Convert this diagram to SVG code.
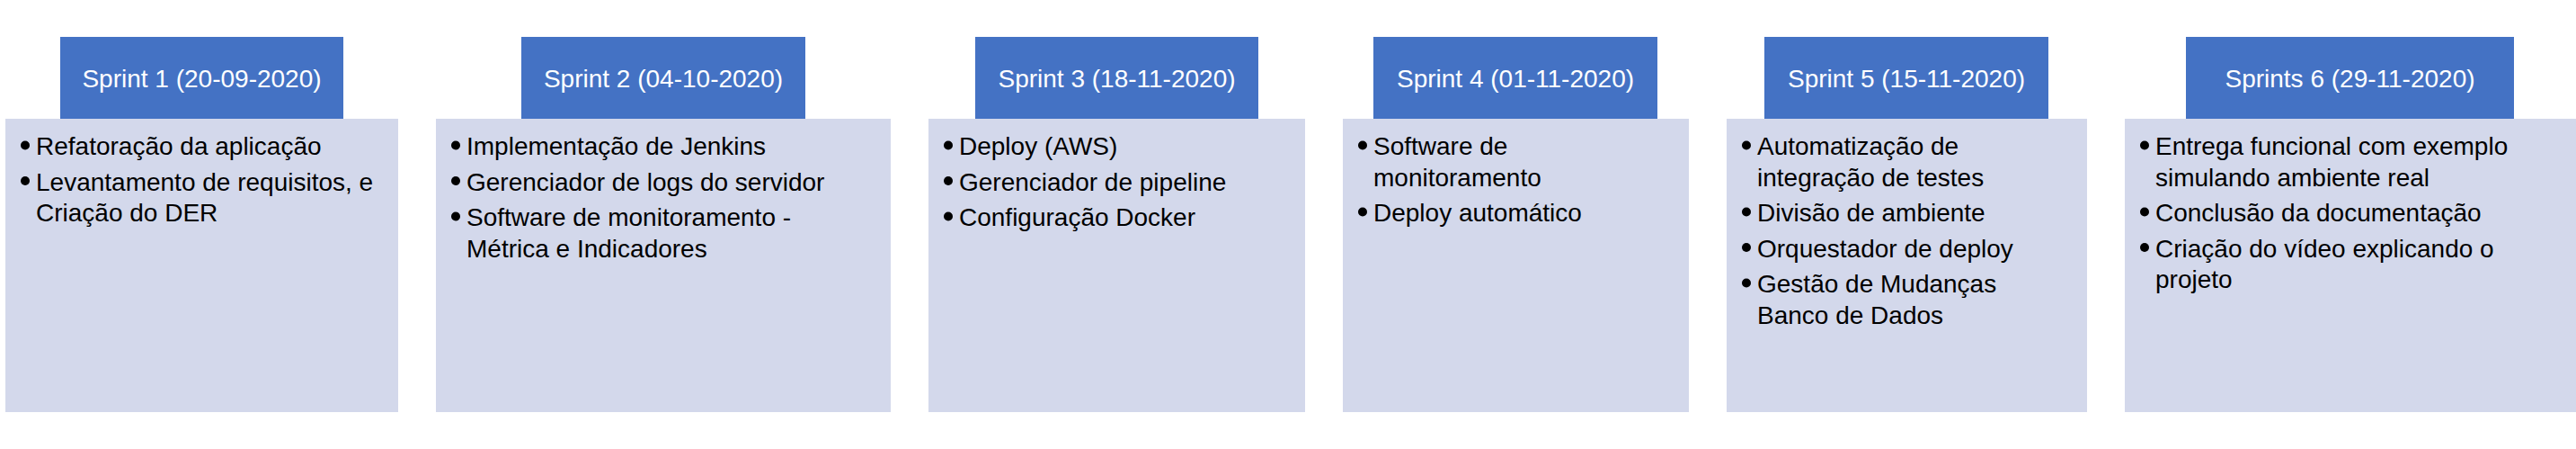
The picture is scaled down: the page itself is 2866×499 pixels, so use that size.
<svg xmlns="http://www.w3.org/2000/svg" width="2866" height="499" viewBox="0 0 2866 499">
  <style>
    .body { fill: #D3D8EB; }
    .head { fill: #4472C4; }
    .ht { font-family: "Liberation Sans", Arial, sans-serif; font-size: 28px; fill: #FFFFFF; text-anchor: middle; }
    .bt { font-family: "Liberation Sans", Arial, sans-serif; font-size: 28px; fill: #000000; }
    .dot { fill: #000000; }
  </style>
  <rect x="0" y="0" width="2866" height="499" fill="#FFFFFF"/>
  <g id="connectors"></g>

  <g id="sprint1">
    <rect class="body" x="6" y="132" width="437" height="326"/>
    <rect class="head" x="67" y="41" width="315" height="91"/>
    <text class="ht" x="224.5" y="97">Sprint 1 (20-09-2020)</text>
    <circle class="dot" cx="28" cy="161.5" r="5"/>
    <text class="bt" x="40" y="172">Refatoração da aplicação</text>
    <circle class="dot" cx="28" cy="201" r="5"/>
    <text class="bt" x="40" y="211.5">Levantamento de requisitos, e</text>
    <text class="bt" x="40" y="246">Criação do DER</text>
  </g>

  <g id="sprint2">
    <rect class="body" x="485" y="132" width="506" height="326"/>
    <rect class="head" x="580" y="41" width="316" height="91"/>
    <text class="ht" x="738" y="97">Sprint 2 (04-10-2020)</text>
    <circle class="dot" cx="507" cy="161.5" r="5"/>
    <text class="bt" x="519" y="172">Implementação de Jenkins</text>
    <circle class="dot" cx="507" cy="201" r="5"/>
    <text class="bt" x="519" y="211.5">Gerenciador de logs do servidor</text>
    <circle class="dot" cx="507" cy="240.5" r="5"/>
    <text class="bt" x="519" y="251">Software de monitoramento -</text>
    <text class="bt" x="519" y="285.5">Métrica e Indicadores</text>
  </g>

  <g id="sprint3">
    <rect class="body" x="1033" y="132" width="419" height="326"/>
    <rect class="head" x="1085" y="41" width="315" height="91"/>
    <text class="ht" x="1242.5" y="97">Sprint 3 (18-11-2020)</text>
    <circle class="dot" cx="1055" cy="161.5" r="5"/>
    <text class="bt" x="1067" y="172">Deploy (AWS)</text>
    <circle class="dot" cx="1055" cy="201" r="5"/>
    <text class="bt" x="1067" y="211.5">Gerenciador de pipeline</text>
    <circle class="dot" cx="1055" cy="240.5" r="5"/>
    <text class="bt" x="1067" y="251">Configuração Docker</text>
  </g>

  <g id="sprint4">
    <rect class="body" x="1494" y="132" width="385" height="326"/>
    <rect class="head" x="1528" y="41" width="316" height="91"/>
    <text class="ht" x="1686" y="97">Sprint 4 (01-11-2020)</text>
    <circle class="dot" cx="1516" cy="161.5" r="5"/>
    <text class="bt" x="1528" y="172">Software de</text>
    <text class="bt" x="1528" y="206.5">monitoramento</text>
    <circle class="dot" cx="1516" cy="235.5" r="5"/>
    <text class="bt" x="1528" y="246">Deploy automático</text>
  </g>

  <g id="sprint5">
    <rect class="body" x="1921" y="132" width="401" height="326"/>
    <rect class="head" x="1963" y="41" width="316" height="91"/>
    <text class="ht" x="2121" y="97">Sprint 5 (15-11-2020)</text>
    <circle class="dot" cx="1943" cy="161.5" r="5"/>
    <text class="bt" x="1955" y="172">Automatização de</text>
    <text class="bt" x="1955" y="206.5">integração de testes</text>
    <circle class="dot" cx="1943" cy="235.5" r="5"/>
    <text class="bt" x="1955" y="246">Divisão de ambiente</text>
    <circle class="dot" cx="1943" cy="275" r="5"/>
    <text class="bt" x="1955" y="285.5">Orquestador de deploy</text>
    <circle class="dot" cx="1943" cy="314.5" r="5"/>
    <text class="bt" x="1955" y="325">Gestão de Mudanças</text>
    <text class="bt" x="1955" y="359.5">Banco de Dados</text>
  </g>

  <g id="sprint6">
    <rect class="body" x="2364" y="132" width="502" height="326"/>
    <rect class="head" x="2432" y="41" width="365" height="91"/>
    <text class="ht" x="2614.5" y="97">Sprints 6 (29-11-2020)</text>
    <circle class="dot" cx="2386" cy="161.5" r="5"/>
    <text class="bt" x="2398" y="172">Entrega funcional com exemplo</text>
    <text class="bt" x="2398" y="206.5">simulando ambiente real</text>
    <circle class="dot" cx="2386" cy="235.5" r="5"/>
    <text class="bt" x="2398" y="246">Conclusão da documentação</text>
    <circle class="dot" cx="2386" cy="275" r="5"/>
    <text class="bt" x="2398" y="285.5">Criação do vídeo explicando o</text>
    <text class="bt" x="2398" y="320">projeto</text>
  </g>
</svg>
